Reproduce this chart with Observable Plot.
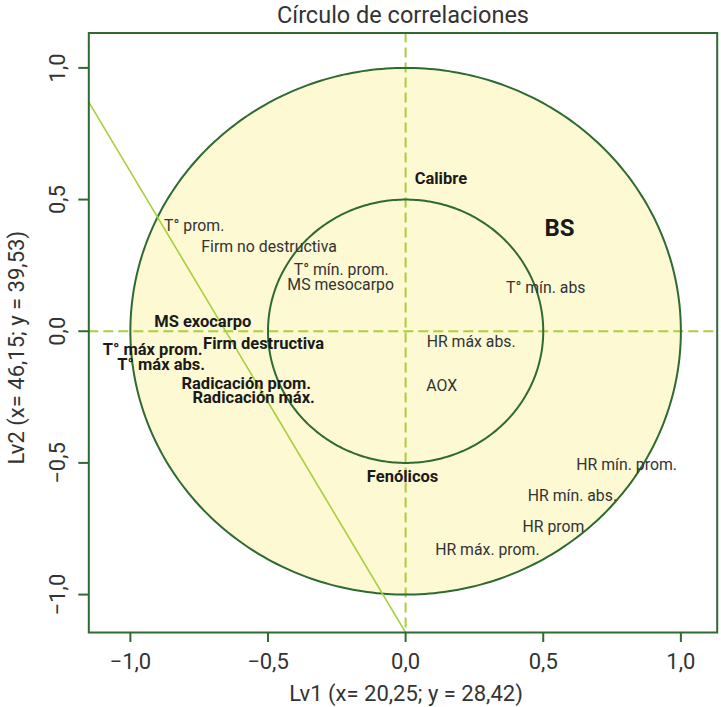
<!DOCTYPE html>
<html><head><meta charset="utf-8">
<script src="https://cdn.jsdelivr.net/npm/d3@7"></script>
<script src="https://cdn.jsdelivr.net/npm/@observablehq/plot@0.6"></script>
<style>body{margin:0;background:#fff} svg{display:block}</style>
</head><body><div id="chart"></div>
<script>
// ---- data ----
const titleText = "Círculo de correlaciones";
const xLabel = "Lv1 (x= 20,25; y = 28,42)";
const yLabel = "Lv2 (x= 46,15; y = 39,53)";
const variables = ["Calibre","T° prom.","Firm no destructiva","T° mín. prom.","MS mesocarpo","T° mín. abs","MS exocarpo","Firm destructiva","T° máx prom.","T° máx abs.","Radicación prom.","Radicación máx.","HR máx abs.","AOX","Fenólicos","HR mín. prom.","HR mín. abs.","HR prom","HR máx. prom."];
const lv1 = [0.128,-0.768,-0.496,-0.234,-0.236,0.509,-0.737,-0.516,-0.919,-0.888,-0.579,-0.552,0.238,0.131,-0.011,0.803,0.606,0.537,0.297];
const lv2 = [0.579,0.401,0.319,0.234,0.174,0.163,0.037,-0.046,-0.071,-0.128,-0.200,-0.251,-0.042,-0.206,-0.551,-0.506,-0.627,-0.744,-0.830];
const emphasized = [true,false,false,false,false,false,true,true,true,true,true,true,false,false,true,false,false,false,false];
const groupLabel = ["BS"];
const groupLv1 = [0.559];
const groupLv2 = [0.389];
const radii = [1, 0.5];
const xTicks = [-1, -0.5, 0, 0.5, 1];
const yTicks = [-1, -0.5, 0, 0.5, 1];
const refLine = [{x: -1.151, y: 0.870}, {x: 0, y: -1.144}];

// ---- derived ----
const labels = variables.map((v, i) => ({name: v, x: lv1[i], y: lv2[i], bold: emphasized[i]}));
const groups = groupLabel.map((g, i) => ({name: g, x: groupLv1[i], y: groupLv2[i]}));
const circles = radii.flatMap(r => d3.range(0, 361).map(a => ({r, x: r * Math.cos(a * Math.PI / 180), y: r * Math.sin(a * Math.PI / 180)})));
const outer = circles.filter(d => d.r === 1);

const dark = "#2e6a31";
const light = "#a8cf3c";
const fillC = "#fdf9d3";
const txt = "#333333";
const font = "Roboto";
const fmt = d => d.toFixed(1).replace(".", ",").replace("-", "\u2212");

const chart = Plot.plot({
  width: 721,
  height: 707,
  marginLeft: 88.3,
  marginRight: 4.3,
  marginTop: 32.5,
  marginBottom: 75,
  style: {fontFamily: font, background: "#fff"},
  x: {domain: [-1.151, 1.132]},
  y: {domain: [-1.144, 1.1325]},
  marks: [
    Plot.line(outer, {x: "x", y: "y", fill: fillC, stroke: "none"}),
    Plot.ruleX([0], {stroke: light, strokeWidth: 2, strokeDasharray: "10,5"}),
    Plot.ruleY([0], {stroke: light, strokeWidth: 2, strokeDasharray: "10,5"}),
    Plot.line(circles, {x: "x", y: "y", z: "r", stroke: dark, strokeWidth: 2}),
    Plot.line(refLine, {x: "x", y: "y", stroke: light, strokeWidth: 1.6, clip: true}),
    Plot.text(labels.filter(d => !d.bold), {x: "x", y: "y", text: "name", fontSize: 15.8, fill: txt, fontFamily: font}),
    Plot.text(labels.filter(d => d.bold), {x: "x", y: "y", text: "name", fontSize: 16.5, fontWeight: "bold", fill: "#1a1a1a", fontFamily: font}),
    Plot.text(groups, {x: "x", y: "y", text: "name", fontSize: 24, fontWeight: "bold", fill: "#1a1a1a", fontFamily: font}),
    Plot.frame({stroke: dark, strokeWidth: 2}),
    Plot.axisX(xTicks, {tickSize: 10, tickPadding: 11, fontSize: 22, tickFormat: fmt, stroke: dark, strokeWidth: 2, fill: txt, label: null}),
    Plot.axisY(yTicks, {tickSize: 10, tickPadding: 14, tickRotate: -90, fontSize: 22, tickFormat: fmt, stroke: dark, strokeWidth: 2, fill: txt, label: null}),
    Plot.text([titleText], {frameAnchor: "top", dy: -17.5, lineAnchor: "middle", textAnchor: "middle", fontSize: 23.5, fill: txt, fontFamily: font}),
    Plot.text([xLabel], {frameAnchor: "bottom", dx: 3, dy: 61, lineAnchor: "middle", textAnchor: "middle", fontSize: 22, fill: txt, fontFamily: font}),
    Plot.text([yLabel], {frameAnchor: "left", dx: -72.3, dy: 15, rotate: -90, lineAnchor: "middle", textAnchor: "middle", fontSize: 22, fill: txt, fontFamily: font})
  ]
});
document.getElementById("chart").appendChild(chart);
</script>
</body></html>
